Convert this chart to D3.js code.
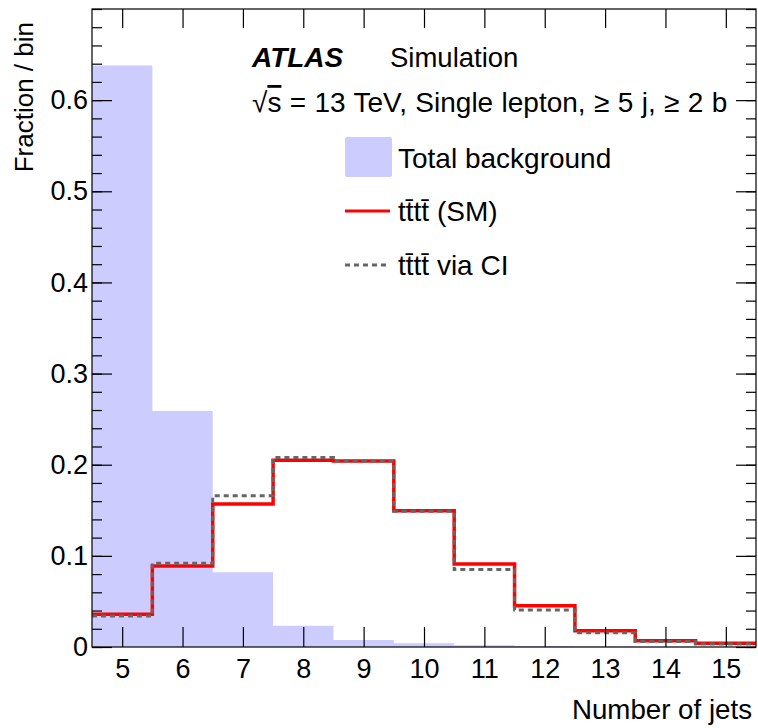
<!DOCTYPE html>
<html>
<head>
<meta charset="utf-8">
<script src="https://cdn.jsdelivr.net/npm/d3@7"></script>
<style>
  body { margin: 0; background: #fff; }
  svg text { font-family: "Liberation Sans", Arial, Helvetica, sans-serif; fill: #000; }
</style>
</head>
<body>
<svg id="chart" width="758" height="728"></svg>
<script>
// number of jets, one bin per integer
const jetBins = [5, 6, 7, 8, 9, 10, 11, 12, 13, 14, 15];
const totalBackground = [0.638, 0.259, 0.082, 0.0234, 0.0077, 0.004, 0.002, 0.001, 0.0006, 0.0003, 0.0002];
const ttttSM = [0.036, 0.089, 0.157, 0.205, 0.204, 0.1495, 0.091, 0.0453, 0.0179, 0.0069, 0.004];
const ttttCI = [0.034, 0.092, 0.166, 0.208, 0.204, 0.149, 0.085, 0.0406, 0.0157, 0.006, 0.0033];
const yMajorTicks = [0, 0.1, 0.2, 0.3, 0.4, 0.5, 0.6];

const TTTT = "tt\u0304tt\u0304";

svg = d3.select("#chart");
margin = {top: 9, right: 2, bottom: 81, left: 92};
width = +svg.attr("width");
height = +svg.attr("height");

x = d3.scaleLinear()
  .domain([4.5, 15.5])
  .range([margin.left, width - margin.right]);

y = d3.scaleLinear()
  .domain([0, 0.7])
  .range([height - margin.bottom, margin.top]);

function stepPath(values) {
  // histogram outline: flat top per bin, vertical joins at the edges
  let p = "";
  values.forEach((v, i) => {
    const x0 = x(jetBins[i] - 0.5), x1 = x(jetBins[i] + 0.5);
    p += (i === 0 ? `M${x0},${y(v)}` : `V${y(v)}`) + `H${x1}`;
  });
  return p;
}

// background histogram as one filled step shape (no seams between bins)
svg.append("path")
  .attr("fill", "#ccccff")
  .attr("stroke", "none")
  .attr("d", stepPath(totalBackground) + `V${y(0)}H${x(4.5)}Z`);

svg.append("path")
  .attr("fill", "none")
  .attr("stroke", "#ff0000")
  .attr("stroke-width", 3.5)
  .attr("d", stepPath(ttttSM));

svg.append("path")
  .attr("fill", "none")
  .attr("stroke", "#666666")
  .attr("stroke-width", 3)
  .attr("stroke-dasharray", "5,4")
  .attr("d", stepPath(ttttCI));

// axes, ticks drawn inward like ROOT
yMinor = d3.range(0, 0.701, 0.02);
fmt = d => d === 0 ? "0" : d3.format(".1f")(d);

function cleanAxis(g) {
  g.select(".domain").remove();
  g.selectAll("line").attr("stroke", "#000").attr("stroke-width", 1.2);
  g.selectAll("text").attr("font-size", 27).attr("font-family", null);
}

svg.append("g")
  .attr("transform", `translate(0,${y(0)})`)
  .call(d3.axisBottom(x).tickValues(jetBins).tickSize(-20).tickPadding(12))
  .call(cleanAxis);

svg.append("g")
  .attr("transform", `translate(0,${y(0.7)})`)
  .call(d3.axisTop(x).tickValues(jetBins).tickSize(-19).tickFormat(""))
  .call(cleanAxis);

svg.append("g")
  .attr("transform", `translate(${x(4.5)},0)`)
  .call(d3.axisLeft(y).tickValues(yMinor).tickSize(-10).tickFormat(""))
  .call(cleanAxis);

svg.append("g")
  .attr("transform", `translate(${x(4.5)},0)`)
  .call(d3.axisLeft(y).tickValues(yMajorTicks).tickSize(-20).tickPadding(4).tickFormat(fmt))
  .call(cleanAxis);

svg.append("g")
  .attr("transform", `translate(${x(15.5)},0)`)
  .call(d3.axisRight(y).tickValues(yMinor).tickSize(-10).tickFormat(""))
  .call(cleanAxis);

svg.append("g")
  .attr("transform", `translate(${x(15.5)},0)`)
  .call(d3.axisRight(y).tickValues(yMajorTicks).tickSize(-20).tickFormat(""))
  .call(cleanAxis);

// frame
svg.append("rect")
  .attr("x", x(4.5))
  .attr("y", y(0.7))
  .attr("width", x(15.5) - x(4.5))
  .attr("height", y(0) - y(0.7))
  .attr("fill", "none")
  .attr("stroke", "#000")
  .attr("stroke-width", 1.2);

// axis titles
svg.append("text")
  .attr("x", 752)
  .attr("y", 719)
  .attr("text-anchor", "end")
  .attr("font-size", 27.7)
  .text("Number of jets");

svg.append("text")
  .attr("transform", "translate(33,22) rotate(-90)")
  .attr("text-anchor", "end")
  .attr("font-size", 26)
  .text("Fraction / bin");

// labels
svg.append("text")
  .attr("x", 252).attr("y", 67)
  .attr("font-size", 28)
  .attr("font-weight", "bold")
  .attr("font-style", "italic")
  .text("ATLAS");

svg.append("text")
  .attr("x", 390).attr("y", 67)
  .attr("font-size", 27.5)
  .text("Simulation");

lbl = svg.append("text")
  .attr("x", 252).attr("y", 112)
  .attr("font-size", 28)
  .attr("word-spacing", 0.6);
lbl.append("tspan").text("\u221A");
lbl.append("tspan").style("text-decoration", "overline").text("s");
lbl.append("tspan").text(" = 13 TeV, Single lepton, \u2265 5 j, \u2265 2 b");

// legend
legend = svg.append("g");
legend.append("rect")
  .attr("x", 345).attr("y", 137)
  .attr("width", 47).attr("height", 40)
  .attr("rx", 2)
  .attr("fill", "#ccccff");
legend.append("text")
  .attr("x", 398).attr("y", 168)
  .attr("font-size", 28)
  .text("Total background");

legend.append("line")
  .attr("x1", 345).attr("x2", 390)
  .attr("y1", 211).attr("y2", 211)
  .attr("stroke", "#ff0000")
  .attr("stroke-width", 3);
legend.append("text")
  .attr("x", 398).attr("y", 221)
  .attr("font-size", 28)
  .text(TTTT + " (SM)");

legend.append("line")
  .attr("x1", 345).attr("x2", 390)
  .attr("y1", 265).attr("y2", 265)
  .attr("stroke", "#666666")
  .attr("stroke-width", 3)
  .attr("stroke-dasharray", "5,4");
legend.append("text")
  .attr("x", 398).attr("y", 275)
  .attr("font-size", 28)
  .text(TTTT + " via CI");
</script>
</body>
</html>
